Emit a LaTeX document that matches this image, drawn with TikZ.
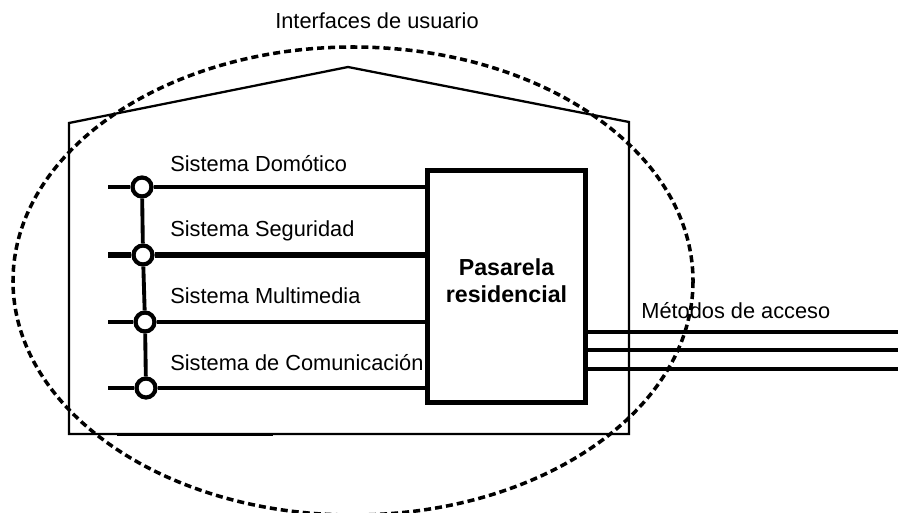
\documentclass[tikz,border=0pt]{standalone}
\usepackage{fontspec}
\setmainfont{Liberation Sans}
\usepackage{tikz}
\usetikzlibrary{shapes,arrows,positioning}

\begin{document}
\begin{tikzpicture}[
    x=0.02cm, y=-0.02cm,
    font=\fontsize{12.4}{14}\selectfont,
    gateway/.style={rectangle, draw, line width=3pt, minimum width=3.16cm, minimum height=4.64cm, inner sep=0pt, align=center, text depth=0.24cm, font=\fontsize{13.2}{15}\selectfont\bfseries},
    joint/.style={circle, draw, line width=2.4pt, fill=white, minimum size=0.38cm, inner sep=0pt},
    syslabel/.style={anchor=base west, inner sep=0pt},
    bus/.style={line width=2.2pt},
    access/.style={line width=2.6pt},
    wall/.style={line width=1.3pt},
    zone/.style={line width=2pt, dash pattern=on 4pt off 2.3pt}
]
    \useasboundingbox (0,0) rectangle (898,513);

    % house and user zone
    \coordinate (hl) at (69,123);
    \coordinate (peak) at (348,67);
    \coordinate (hr) at (629,122);
    \coordinate (br) at (629,434);
    \coordinate (bl) at (69,434);
    \draw[wall] (bl) -- (hl) -- (peak) -- (hr) -- (br) -- cycle;
    \draw[wall, line width=1.6pt] (117,434.5) -- (273,434.5);
    \draw[zone] (353,281) ellipse [x radius=340, y radius=234];
    \node[anchor=base, inner sep=0pt] (title) at (377,29) {Interfaces de usuario};

    % gateway
    \node[gateway] (gw) at (506.5,286.5) {Pasarela\\residencial};

    % systems
    \node[joint] (j1) at (142,187) {};
    \node[joint] (j2) at (143,255) {};
    \node[joint] (j3) at (145,322) {};
    \node[joint] (j4) at (146,388) {};
    \coordinate (s1) at (108,187);
    \coordinate (s2) at (108,255);
    \coordinate (s3) at (108,322);
    \coordinate (s4) at (108,388);
    \node[syslabel] (dom) at (170,172) {Sistema Domótico};
    \node[syslabel] (seg) at (170,236) {Sistema Seguridad};
    \node[syslabel] (mul) at (170,303) {Sistema Multimedia};
    \node[syslabel] (com) at (170,370) {Sistema de Comunicación};

    \draw[bus] (s1) -- (j1) -- (j1 -| gw.west);
    \draw[bus, line width=3pt] (s2) -- (j2) -- (j2 -| gw.west);
    \draw[bus] (s3) -- (j3) -- (j3 -| gw.west);
    \draw[bus] (s4) -- (j4) -- (j4 -| gw.west);
    \draw[bus] (j1) -- (j2) -- (j3) -- (j4);

    % access
    \coordinate (a1) at (898,332);
    \coordinate (a2) at (898,350);
    \coordinate (a3) at (898,369);
    \node[syslabel] (acc) at (641,318) {Métodos de acceso};
    \draw[access] (a1 -| gw.east) -- (a1);
    \draw[access] (a2 -| gw.east) -- (a2);
    \draw[access] (a3 -| gw.east) -- (a3);
\end{tikzpicture}
\end{document}
